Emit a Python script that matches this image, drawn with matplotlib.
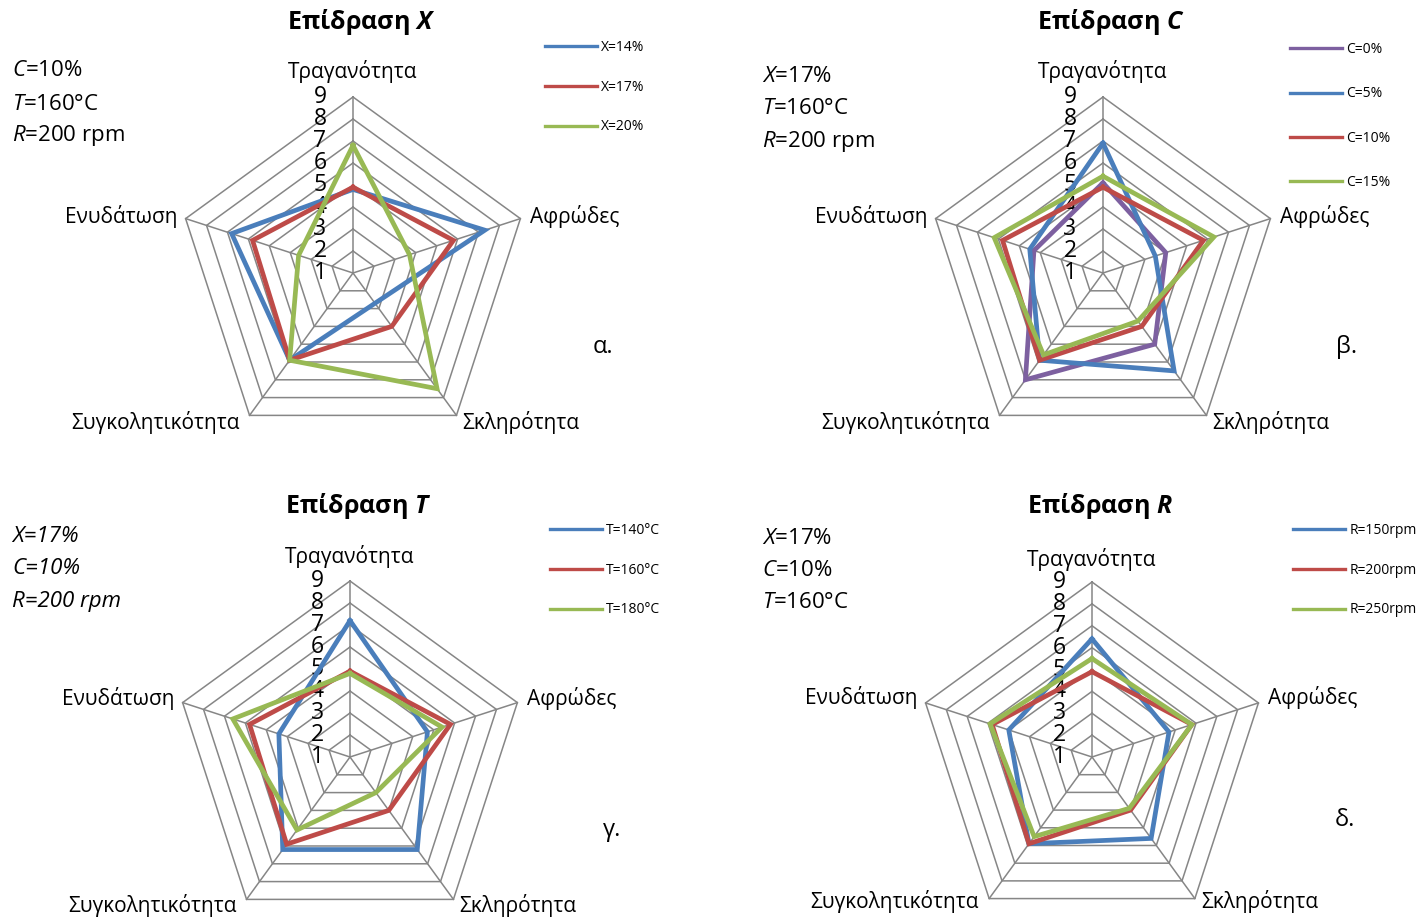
import numpy as np
import matplotlib
matplotlib.use("Agg")
import matplotlib.pyplot as plt

plt.rcParams["font.family"] = ["Open Sans", "DejaVu Sans"]
plt.rcParams["mathtext.fontset"] = "custom"
plt.rcParams["mathtext.rm"] = "Open Sans"
plt.rcParams["mathtext.it"] = "Open Sans:italic"
plt.rcParams["mathtext.bf"] = "Open Sans:bold"
plt.rcParams["mathtext.bfit"] = "Open Sans:italic:bold"

# ---- data -------------------------------------------------------------
attributes = ["Τραγανότητα", "Αφρώδες", "Σκληρότητα", "Συγκολητικότητα", "Ενυδάτωση"]
scale_ticks = [1, 2, 3, 4, 5, 6, 7, 8, 9]

# reference condition X=17%, C=10%, T=160°C, R=200 rpm
base = [4.9, 5.8, 4.0, 5.9, 5.8]

x_labels = ["X=14%", "X=17%", "X=20%"]
x14 = [4.8, 7.3, 2.7, 5.9, 6.8]
x20 = [6.8, 3.7, 7.5, 5.9, 3.6]

c_labels = ["C=0%", "C=5%", "C=10%", "C=15%"]
c0 = [5.1, 4.0, 5.0, 7.0, 4.3]
c5 = [6.9, 3.5, 6.5, 5.9, 4.5]
c15 = [5.4, 6.3, 3.7, 5.6, 6.2]

t_labels = ["T=140°C", "T=160°C", "T=180°C"]
t140 = [7.2, 4.7, 6.2, 6.2, 4.4]
t180 = [4.8, 5.4, 3.0, 5.1, 6.6]

r_labels = ["R=150rpm", "R=200rpm", "R=250rpm"]
r150 = [6.4, 4.7, 5.6, 5.9, 5.0]
r250 = [5.5, 5.8, 3.9, 5.5, 5.9]

# ---- style ------------------------------------------------------------
BLUE, RED, GREEN, PURPLE = "#4A7EBB", "#BE4B48", "#98B954", "#7D60A0"
GRID = "#868686"
W, H = 1424, 918

fig = plt.figure(figsize=(W / 100, H / 100), dpi=100)


def fx(x):
    return x / W


def fy(y):
    return 1 - y / H


def radar(cx, cy, R, series, colors, labels, title, title_var, notes,
          letter, letter_xy, legend_xy, legend_gap, label_offsets):
    ax = fig.add_axes([fx(cx - R), fy(cy + R), 2 * R / W, 2 * R / H],
                      projection="polar")
    ax.set_theta_offset(np.pi / 2)
    ax.set_theta_direction(-1)
    ax.set_ylim(scale_ticks[0], scale_ticks[-1])
    ax.set_axis_off()

    theta = np.arange(len(attributes)) * 2 * np.pi / len(attributes)
    closed = np.append(theta, theta[0])

    for v in scale_ticks[1:]:
        ax.plot(closed, [v] * len(closed), color=GRID, lw=1.1,
                clip_on=False, zorder=1)
    for t in theta:
        ax.plot([t, t], [scale_ticks[0], scale_ticks[-1]], color=GRID,
                lw=1.1, clip_on=False, zorder=1)

    for v in scale_ticks:
        ax.annotate(str(v), xy=(0, v), xytext=(-33, 0),
                    textcoords="offset pixels", ha="center", va="center",
                    fontsize=16.5, annotation_clip=False)

    aligns = ["center", "left", "left", "right", "right"]
    for t, name, ha, off in zip(theta, attributes, aligns, label_offsets):
        ax.annotate(name, xy=(t, scale_ticks[-1]), xytext=off,
                    textcoords="offset pixels", ha=ha, va="center",
                    fontsize=15, annotation_clip=False)

    handles = []
    for vals, col, lab in zip(series, colors, labels):
        h, = ax.plot(closed, np.append(vals, vals[0]), color=col, lw=3.4,
                     solid_joinstyle="miter", clip_on=False, zorder=3,
                     label=lab)
        handles.append(h)

    fs = 10
    fig.legend(handles=handles, loc="upper left",
               bbox_to_anchor=(fx(legend_xy[0]), fy(legend_xy[1])),
               bbox_transform=fig.transFigure, frameon=False, fontsize=fs,
               handlelength=3.75, handletextpad=0.3, borderpad=0,
               borderaxespad=0, labelspacing=legend_gap)
    for lh in fig.legends[-1].get_lines():
        lh.set_linewidth(2.4)

    fig.text(fx(cx + 8), fy(22 if cy < 459 else 506),
             title + " $\\mathbfit{" + title_var + "}$",
             ha="center", va="center", fontsize=18, fontweight="bold")

    for (x, y, s, style) in notes:
        fig.text(fx(x), fy(y), s, ha="left", va="center", fontsize=16,
                 fontstyle=style)

    fig.text(fx(letter_xy[0]), fy(letter_xy[1]), letter, ha="center",
             va="center", fontsize=17)


offs_top = [(0, 25), (10, 2), (6, -7), (-10, -7), (-8, 2)]

radar(353, 273, 176, [x14, base, x20], [BLUE, RED, GREEN], x_labels,
      "Επίδραση", "X",
      [(12, 71, "$\\mathit{C}$=10%", "normal"),
       (12, 104, "$\\mathit{T}$=160°C", "normal"),
       (12, 136, "$\\mathit{R}$=200 rpm", "normal")],
      "α.", (603, 347), (545, 40), 1.78, offs_top)

radar(1103, 273, 176, [c0, c5, base, c15], [PURPLE, BLUE, RED, GREEN],
      c_labels, "Επίδραση", "C",
      [(762, 76, "$\\mathit{X}$=17%", "normal"),
       (762, 109, "$\\mathit{T}$=160°C", "normal"),
       (762, 142, "$\\mathit{R}$=200 rpm", "normal")],
      "β.", (1347, 347), (1290, 42), 2.12, offs_top)

radar(350, 757, 176, [t140, base, t180], [BLUE, RED, GREEN], t_labels,
      "Επίδραση", "T",
      [(12, 537, "X=17%", "italic"), (12, 569, "C=10%", "italic"),
       (12, 602, "R=200 rpm", "italic")],
      "γ.", (612, 830), (550, 523), 1.78,
      [(0, 24), (10, 4), (6, -6), (-10, -6), (-8, 4)])

radar(1092, 757, 175, [r150, base, r250], [BLUE, RED, GREEN], r_labels,
      "Επίδραση", "R",
      [(762, 538, "$\\mathit{X}$=17%", "normal"),
       (762, 571, "$\\mathit{C}$=10%", "normal"),
       (762, 603, "$\\mathit{T}$=160°C", "normal")],
      "δ.", (1345, 820), (1293, 523), 1.78,
      [(0, 23), (10, 5), (6, -3), (-10, -3), (-8, 5)])

fig.savefig("out.png", dpi=100)
